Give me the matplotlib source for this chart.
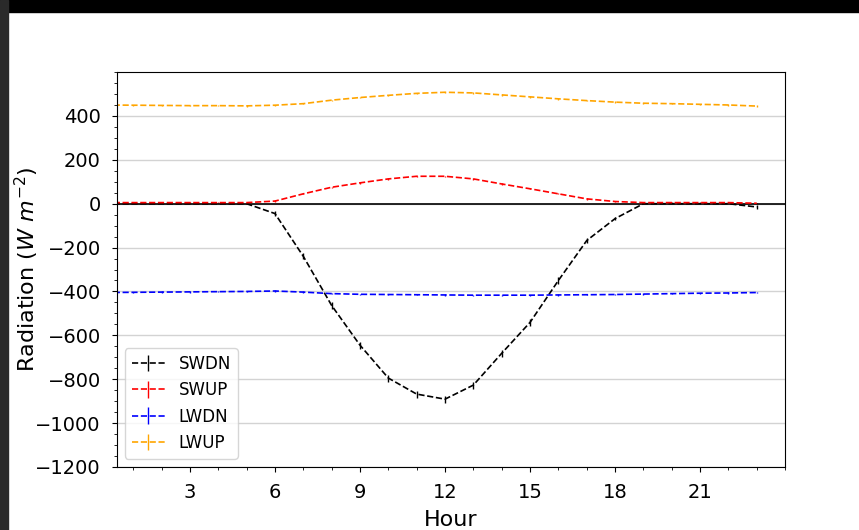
#!/usr/bin/env python3
"""Diurnal radiation components (SWDN, SWUP, LWDN, LWUP) by hour."""

import matplotlib
matplotlib.use("Agg")
import matplotlib.pyplot as plt
from matplotlib.patches import Rectangle
from matplotlib.ticker import AutoMinorLocator

# Data (W m-2), hours 0..23
hours = list(range(24))
swdn = [0, 0, 0, 0, 0, 0, -45, -240, -464, -645, -795, -868,
        -891, -827, -682, -541, -350, -168, -68, 0, 0, 0, 0, -15]
swup = [5, 5, 5, 5, 5, 5, 12, 45, 75, 95, 113, 125,
        125, 113, 90, 68, 45, 22, 10, 5, 5, 5, 5, 2]
lwdn = [-405, -404, -403, -402, -401, -400, -398, -403, -410, -413, -414, -415,
        -416, -417, -417, -417, -416, -415, -414, -412, -410, -408, -407, -405]
lwup = [450, 449, 448, 447, 447, 446, 449, 456, 472, 484, 494, 503,
        508, 505, 496, 487, 478, 470, 463, 458, 456, 453, 450, 445]
swdn_err = [0, 0, 0, 0, 0, 0, 12, 14, 15, 16, 16, 16,
            16, 16, 15, 15, 14, 12, 8, 0, 0, 0, 0, 10]
small_err = [3] * 24

series = [("SWDN", swdn, swdn_err, "black"),
          ("SWUP", swup, small_err, "red"),
          ("LWDN", lwdn, small_err, "blue"),
          ("LWUP", lwup, small_err, "orange")]

fig = plt.figure(figsize=(8.59, 5.30), dpi=100)
ax = fig.add_axes([0.136, 0.119, 0.778, 0.745])

for name, vals, err, col in series:
    ax.errorbar(hours, vals, yerr=err, fmt='--', color=col, linewidth=1.2,
                elinewidth=1, capsize=0, label=name)

ax.axhline(0, color='black', linewidth=1.2)
ax.set_xlim(0.42, 24)
ax.set_ylim(-1200, 600)
ax.set_xticks([3, 6, 9, 12, 15, 18, 21])
ax.set_yticks(range(-1200, 401, 200))
ax.xaxis.set_minor_locator(AutoMinorLocator(3))
ax.yaxis.set_minor_locator(AutoMinorLocator(4))
ax.tick_params(axis='both', which='major', labelsize=14, pad=8)
ax.grid(True, axis='y', color='lightgray', linewidth=1)
ax.set_axisbelow(True)
ax.set_xlabel('Hour', fontsize=16, labelpad=6)
ax.set_ylabel(r'Radiation ($W\ m^{-2}$)', fontsize=16, va='center')
ax.yaxis.set_label_coords(-0.135, 0.5)
ax.legend(loc='lower left', fontsize=12)

# screenshot border
fig.patches.append(Rectangle((0, 1 - 12 / 530), 1, 12 / 530, transform=fig.transFigure,
                             color='black', zorder=10))
fig.patches.append(Rectangle((0, 0), 8 / 859, 1, transform=fig.transFigure,
                             color='#2a2a2a', zorder=10))

fig.savefig('out.png', dpi=100)
